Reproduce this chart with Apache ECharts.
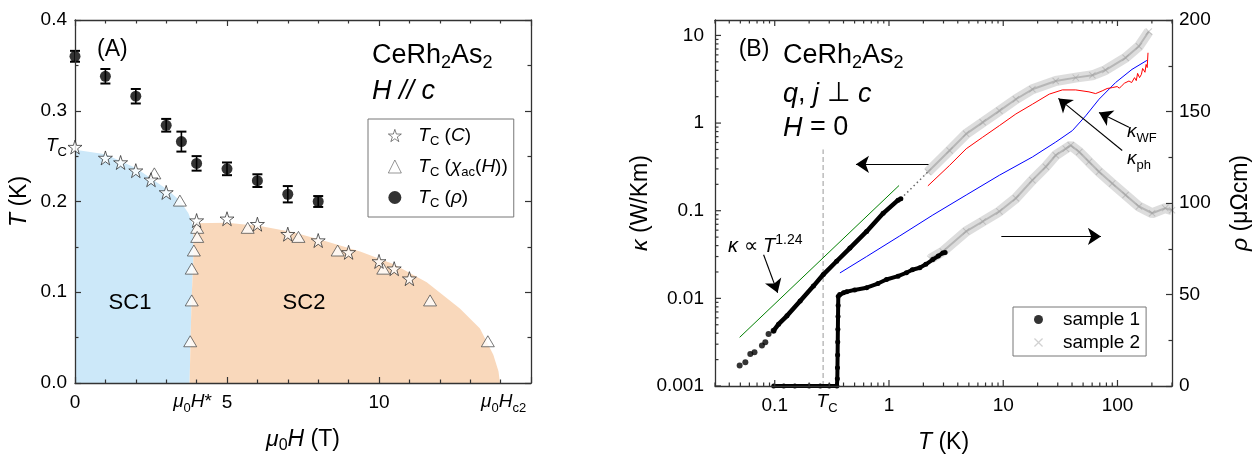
<!DOCTYPE html>
<html><head><meta charset="utf-8">
<script src="https://cdn.jsdelivr.net/npm/echarts@6/dist/echarts.min.js"></script>
<style>html,body{margin:0;padding:0;background:#fff}#c{width:1254px;height:459px}</style>
</head><body><div id="c"></div>
<script>
// ================= Panel A data =================
const rhoH   = [0, 1, 2, 3, 3.5, 4, 5, 6, 7, 8];
const rhoTc  = [0.360, 0.338, 0.316, 0.284, 0.266, 0.242, 0.236, 0.223, 0.208, 0.200];
const rhoErr = [0.006, 0.008, 0.008, 0.007, 0.011, 0.008, 0.007, 0.007, 0.009, 0.006];
const starH  = [0, 1, 1.5, 2, 2.5, 3, 4, 5, 6, 7, 8, 9, 10, 10.5, 11];
const starTc = [0.260, 0.248, 0.243, 0.234, 0.224, 0.210, 0.179, 0.181, 0.175, 0.164, 0.157, 0.144, 0.134, 0.126, 0.115];
const triH   = [2.61, 3.45, 4.02, 4.02, 3.91, 3.84, 3.84, 3.79, 5.68, 7.35, 8.64, 10.14, 11.68, 13.58];
const triTc  = [0.231, 0.201, 0.171, 0.161, 0.146, 0.126, 0.091, 0.046, 0.171, 0.161, 0.146, 0.126, 0.091, 0.046];
const sc1H = [0, 0, 1, 2, 3, 3.45, 3.73, 3.9, 3.89, 3.84, 3.81, 3.77];
const sc1T = [0, 0.257, 0.252, 0.237, 0.214, 0.201, 0.187, 0.172, 0.133, 0.0965, 0.06, 0];
const sc2H = [3.77, 3.81, 3.84, 3.89, 3.9, 3.95, 4.99, 6.09, 7.18, 8.28, 9.38, 10.47, 11.57, 12.66, 13.32, 13.76, 13.93, 13.98];
const sc2T = [0, 0.06, 0.0965, 0.133, 0.172, 0.176, 0.1765, 0.173, 0.166, 0.156, 0.145, 0.131, 0.111, 0.082, 0.060, 0.031, 0.013, 0];
const hStar = 3.8, hC2 = 14, tcA = 0.26;

// ================= Panel B data =================
const k1DotT  = [0.0493, 0.0553, 0.0611, 0.0665, 0.0773, 0.0827, 0.0883, 0.0977];
const k1DotK  = [0.00171, 0.00187, 0.00232, 0.00243, 0.00289, 0.00315, 0.00391, 0.00427];
const k1LineT = [0.0977, 0.108, 0.128, 0.167, 0.218, 0.266, 0.348, 0.455, 0.637, 0.889, 1.2, 1.27];
const k1LineK = [0.00427, 0.00508, 0.00632, 0.00935, 0.0138, 0.0187, 0.0265, 0.0375, 0.058, 0.0934, 0.132, 0.137];
const k1GapT  = [1.27, 2.19];
const k1GapK  = [0.137, 0.277];
const r1T = [0.098, 0.12, 0.15, 0.2, 0.25, 0.3, 0.35, 0.353, 0.354, 0.355, 0.356, 0.357, 0.358, 0.359, 0.36, 0.37, 0.4, 0.426, 0.5, 0.637, 0.8, 0.95, 1.2, 1.42, 1.6, 1.86, 2.1, 2.42, 2.7, 2.96, 3.1];
const r1R = [0, 0, 0, 0, 0, 0, 0, 4, 10, 17, 24, 31, 38, 44, 49, 50, 51, 51.5, 52.5, 53.7, 56, 58.2, 60, 61.9, 63.5, 64.6, 66.5, 69.1, 71, 72.7, 73];
const k2T = [2.19, 3.39, 4.74, 6.61, 9.25, 12.9, 18, 28.8, 43.1, 60.3, 78.5, 117.7, 154, 188];
const k2K = [0.277, 0.487, 0.753, 1.02, 1.38, 1.87, 2.43, 3.02, 3.30, 3.51, 4.03, 5.56, 7.53, 11.1];
const r2T = [2.3, 2.96, 4.74, 6.61, 9.25, 12.9, 18, 23.6, 28.8, 35.3, 39, 46.3, 56.3, 68.9, 90, 117.7, 154, 201, 262, 300];
const r2R = [69.5, 73.5, 84.5, 89.9, 95.4, 102.6, 112.5, 119.8, 126.1, 129.7, 131.5, 127.9, 122.5, 117.1, 110.7, 104.4, 98.1, 94.4, 97.2, 96];
const kwfT = [0.372, 0.637, 1.24, 2.42, 4.74, 9.25, 18, 28.8, 40.3, 52.7, 68.9, 96.2, 134, 181];
const kwfK = [0.0195, 0.030, 0.0515, 0.0893, 0.151, 0.254, 0.41, 0.607, 0.821, 1.21, 1.87, 2.9, 4.1, 5.19];
const kphT = [2.19, 3.39, 4.74, 6.61, 9.25, 12.9, 18, 25.3, 32.9, 43.1, 56.3, 64.4, 73.4, 81.1, 90, 99.4, 104, 110, 115, 126, 133, 141, 146, 150, 156, 162, 166, 170, 174, 178, 182, 185];
const kphK = [0.192, 0.329, 0.509, 0.69, 0.935, 1.27, 1.64, 2.14, 2.39, 2.39, 2.27, 2.17, 2.33, 2.48, 2.54, 2.61, 2.5, 2.7, 2.85, 3.02, 2.9, 3.3, 3.05, 3.69, 3.3, 3.6, 4.2, 4.1, 3.8, 4.67, 4.3, 6.34];
const kfitT = [0.0493, 1.225];
const kfitK = [0.00359, 0.194];
const tcB = 0.265;
const tcLineK = [0.001, 0.5];
const arrowLeft  = [[2.22, 0.338], [0.514, 0.338]];
const arrowRight = [[9.62, 0.0509], [71.6, 0.0509]];
const arrowWF    = [[126, 0.896], [68.9, 1.32]];
const arrowPh    = [[110, 0.486], [30.4, 1.91]];
const arrowFit   = [[0.0799, 0.0315], [0.106, 0.0116]];
// axis tick labels / structure
const xTicksA = [0, 5, 10];
const logMant = [1, 2, 3, 4, 5, 6, 7, 8, 9];
const logDecX = [0.01, 0.1, 1, 10, 100];
const logDecY = [0.001, 0.01, 0.1, 1, 10];

// ================= helpers =================
const FONT = '"Liberation Sans", Arial, Helvetica, sans-serif';
function R(sz, gap) {
  const sub = Math.round(sz * 0.68);
  const f = {fontFamily: FONT, color: '#000'};
  return {
    n:  Object.assign({}, f, {fontSize: sz, lineHeight: sz + 6}),
    i:  Object.assign({}, f, {fontSize: sz, fontStyle: 'italic', lineHeight: sz + 6}),
    s:  Object.assign({}, f, {fontSize: sub, lineHeight: sub, verticalAlign: 'bottom'}),
    si: Object.assign({}, f, {fontSize: sub, fontStyle: 'italic', lineHeight: sub, verticalAlign: 'bottom'}),
    p:  Object.assign({}, f, {fontSize: sub, lineHeight: sub, verticalAlign: 'top'}),
    g:  Object.assign({}, f, {fontSize: sz, width: gap || 7, lineHeight: sz + 6})
  };
}
const zip = (a, b) => a.map((v, i) => [v, b[i]]);
const AX = '#333';
const starPath = 'path://M12,0 L14.8,8.6 L24,8.6 L16.6,14 L19.4,22.6 L12,17.3 L4.6,22.6 L7.4,14 L0,8.6 L9.2,8.6 Z';
const crossPath = 'path://M0,1 L1,0 L5,4 L9,0 L10,1 L6,5 L10,9 L9,10 L5,6 L1,10 L0,9 L4,5 Z';

function polygonSeries(H, T, color) {
  return {
    type: 'custom', xAxisIndex: 0, yAxisIndex: 0, z: 1, silent: true,
    data: [[H[0], T[0]]],
    renderItem: (params, api) => ({
      type: 'polygon',
      shape: {points: H.map((h, i) => api.coord([h, T[i]]))},
      style: {fill: color}
    })
  };
}

// log ticks (structure only)
const tickData = [];
logDecX.forEach(d => logMant.forEach(m => {
  const v = +(m * d).toPrecision(6);
  if (v >= 0.03 && v <= 300) tickData.push([v, 1, 0, m === 1 ? 1 : 0]);
}));
logDecY.forEach(d => logMant.forEach(m => {
  const v = +(m * d).toPrecision(6);
  if (v >= 0.001 && v <= 15) tickData.push([1, v, 1, m === 1 ? 1 : 0]);
}));

function isPow10(v) { const l = Math.log10(v); return Math.abs(l - Math.round(l)) < 1e-6; }

const tickLabel = {fontFamily: FONT, fontSize: 19, color: '#000'};
const nameStyle = {fontFamily: FONT, fontSize: 23, color: '#000', rich: R(23)};
const lineAx = {show: true, onZero: false, lineStyle: {color: AX, width: 1.3}};

const bandOuter = 'rgba(175,175,175,0.42)';
const bandInner = 'rgba(135,135,135,0.45)';
const crossCol  = 'rgba(150,150,150,0.55)';

const option = {
  animation: false,
  backgroundColor: '#fff',
  grid: [
    {left: 75, top: 20, width: 456, height: 369},
    {left: 715, top: 20, width: 457, height: 369}
  ],
  xAxis: [
    {type: 'value', gridIndex: 0, min: 0, max: 15, interval: 5, z: 5,
     axisLine: lineAx, axisTick: {inside: true, length: 6, lineStyle: {color: AX, width: 1.2}},
     minorTick: {show: true, splitNumber: 5, length: 3.5, lineStyle: {color: AX, width: 1.2}},
     splitLine: {show: false},
     axisLabel: Object.assign({margin: 10, formatter: v => xTicksA.indexOf(v) >= 0 ? String(v) : ''}, tickLabel),
     name: '{i|μ}{s|0}{i|H}{n| (T)}', nameLocation: 'middle', nameGap: 42, nameTextStyle: nameStyle},
    {type: 'value', gridIndex: 0, position: 'top', min: 0, max: 15, interval: 5, z: 5,
     axisLine: lineAx, axisTick: {inside: true, length: 6, lineStyle: {color: AX, width: 1.2}},
     minorTick: {show: true, splitNumber: 5, length: 3.5, lineStyle: {color: AX, width: 1.2}},
     splitLine: {show: false}, axisLabel: {show: false}},
    {type: 'log', gridIndex: 1, min: 0.03, max: 300, logBase: 10, z: 5,
     axisLine: lineAx, axisTick: {show: false}, splitLine: {show: false},
     axisLabel: Object.assign({margin: 10, formatter: v => isPow10(v) ? String(+v.toPrecision(3)) : ''}, tickLabel),
     name: '{i|T}{n| (K)}', nameLocation: 'middle', nameGap: 42, nameTextStyle: nameStyle},
    {type: 'log', gridIndex: 1, position: 'top', min: 0.03, max: 300, logBase: 10, z: 5,
     axisLine: lineAx, axisTick: {show: false}, splitLine: {show: false}, axisLabel: {show: false}}
  ],
  yAxis: [
    {type: 'value', gridIndex: 0, min: 0, max: 0.4, interval: 0.1, z: 5,
     axisLine: lineAx, axisTick: {inside: true, length: 6, lineStyle: {color: AX, width: 1.2}},
     minorTick: {show: true, splitNumber: 2, length: 3.5, lineStyle: {color: AX, width: 1.2}},
     splitLine: {show: false},
     axisLabel: Object.assign({margin: 8, formatter: v => v.toFixed(1)}, tickLabel),
     name: '{i|T}{n| (K)}', nameLocation: 'middle', nameGap: 41, nameTextStyle: nameStyle},
    {type: 'value', gridIndex: 0, position: 'right', min: 0, max: 0.4, interval: 0.1, z: 5,
     axisLine: lineAx, axisTick: {inside: true, length: 6, lineStyle: {color: AX, width: 1.2}},
     minorTick: {show: true, splitNumber: 2, length: 3.5, lineStyle: {color: AX, width: 1.2}},
     splitLine: {show: false}, axisLabel: {show: false}},
    {type: 'log', gridIndex: 1, min: 0.001, max: 15, logBase: 10, z: 5,
     axisLine: lineAx, axisTick: {show: false}, splitLine: {show: false},
     axisLabel: Object.assign({margin: 11, formatter: v => isPow10(v) ? String(+v.toPrecision(3)) : ''}, tickLabel),
     name: '{i|κ}{n| (W/Km)}', nameLocation: 'middle', nameGap: 55, nameTextStyle: nameStyle},
    {type: 'value', gridIndex: 1, position: 'right', min: 0, max: 200, interval: 50, z: 5,
     axisLine: lineAx, axisTick: {inside: true, length: 6, lineStyle: {color: AX, width: 1.2}},
     minorTick: {show: true, splitNumber: 2, length: 3.5, lineStyle: {color: AX, width: 1.2}},
     splitLine: {show: false},
     axisLabel: Object.assign({margin: 7}, tickLabel),
     name: '{i|ρ}{n| (μΩcm)}', nameLocation: 'middle', nameGap: 54, nameRotate: 90, nameTextStyle: nameStyle}
  ],
  legend: [
    {data: ['Tc_C', 'Tc_chi', 'Tc_rho'], orient: 'vertical', left: 368, top: 119,
     padding: [7, 6, 7, 20], itemWidth: 13, itemHeight: 13, itemGap: 9,
     borderColor: '#777', borderWidth: 1, selectedMode: false, symbolKeepAspect: true,
     itemStyle: {borderWidth: 0.7},
     formatter: n => ({
       Tc_C: '{g|}{i|T}{s|C}{n| (}{i|C}{n|)}',
       Tc_chi: '{g|}{i|T}{s|C}{n| (}{i|χ}{s|ac}{n|(}{i|H}{n|))}',
       Tc_rho: '{g|}{i|T}{s|C}{n| (}{i|ρ}{n|)}'
     })[n],
     textStyle: {fontFamily: FONT, fontSize: 19, rich: R(19, 12)}},
    {data: ['sample 1', 'sample 2'], orient: 'vertical', left: 1013, top: 307,
     padding: [3, 6, 4, 21], itemWidth: 9, itemHeight: 9, itemGap: 4,
     borderColor: '#777', borderWidth: 1, selectedMode: false, symbolKeepAspect: true,
     formatter: n => '{g|}{n|' + n + '}',
     textStyle: {fontFamily: FONT, fontSize: 19, rich: Object.assign(R(19, 15), {n: {fontFamily: FONT, fontSize: 19, lineHeight: 23, color: '#000'}})}}
  ],
  series: [
    // ---------- Panel A ----------
    polygonSeries(sc1H, sc1T, '#cce8f9'),
    polygonSeries(sc2H, sc2T, '#f9d8bb'),
    {type: 'custom', xAxisIndex: 0, yAxisIndex: 0, z: 3, silent: true,
     data: rhoH.map((h, i) => [h, rhoTc[i] - rhoErr[i], rhoTc[i] + rhoErr[i]]),
     encode: {x: 0, y: [1, 2]},
     renderItem: (params, api) => {
       const lo = api.coord([api.value(0), api.value(1)]);
       const hi = api.coord([api.value(0), api.value(2)]);
       const w = 5, st = {stroke: '#000', lineWidth: 1.6};
       return {type: 'group', children: [
         {type: 'line', shape: {x1: lo[0], y1: lo[1], x2: hi[0], y2: hi[1]}, style: st},
         {type: 'line', shape: {x1: lo[0] - w, y1: lo[1], x2: lo[0] + w, y2: lo[1]}, style: {stroke: '#000', lineWidth: 2}},
         {type: 'line', shape: {x1: hi[0] - w, y1: hi[1], x2: hi[0] + w, y2: hi[1]}, style: {stroke: '#000', lineWidth: 2}}
       ]};
     }},
    {name: 'Tc_rho', type: 'scatter', xAxisIndex: 0, yAxisIndex: 0, z: 4, symbol: 'circle', symbolSize: 11,
     itemStyle: {color: '#000'}, data: zip(rhoH, rhoTc)},
    {name: 'Tc_chi', type: 'scatter', xAxisIndex: 0, yAxisIndex: 0, z: 4, symbol: 'triangle', symbolSize: [13, 11],
     itemStyle: {color: '#fff', borderColor: '#444', borderWidth: 0.9}, data: zip(triH, triTc)},
    {name: 'Tc_C', type: 'scatter', xAxisIndex: 0, yAxisIndex: 0, z: 5, symbol: starPath, symbolSize: 14,
     itemStyle: {color: '#fff', borderColor: '#222', borderWidth: 0.9}, data: zip(starH, starTc)},
    // ---------- Panel B ----------
    {type: 'custom', xAxisIndex: 2, yAxisIndex: 2, z: 6, silent: true, clip: false,
     data: tickData, encode: {x: 0, y: 1},
     renderItem: (params, api) => {
       const cs = params.coordSys;
       const len = api.value(3) ? 6 : 3.5;
       const st = {stroke: AX, lineWidth: 1.2};
       if (api.value(2) === 0) {
         const px = api.coord([api.value(0), 1])[0];
         return {type: 'group', children: [
           {type: 'line', shape: {x1: px, y1: cs.y + cs.height, x2: px, y2: cs.y + cs.height - len}, style: st},
           {type: 'line', shape: {x1: px, y1: cs.y, x2: px, y2: cs.y + len}, style: st}
         ]};
       }
       const py = api.coord([1, api.value(1)])[1];
       return {type: 'line', shape: {x1: cs.x, y1: py, x2: cs.x + len, y2: py}, style: st};
     }},
    {type: 'line', xAxisIndex: 2, yAxisIndex: 2, symbol: 'none', silent: true,
     lineStyle: {color: '#999', width: 1, type: [5, 3]}, data: tcLineK.map(k => [tcB, k])},
    {type: 'line', xAxisIndex: 2, yAxisIndex: 2, symbol: 'none', silent: true,
     lineStyle: {color: '#008000', width: 1}, data: zip(kfitT, kfitK)},
    // sample 2 bands
    {type: 'line', xAxisIndex: 2, yAxisIndex: 2, symbol: 'none', silent: true, z: 2,
     lineStyle: {color: bandOuter, width: 10}, data: zip(k2T, k2K)},
    {type: 'line', xAxisIndex: 2, yAxisIndex: 2, symbol: 'none', silent: true, z: 2,
     lineStyle: {color: bandInner, width: 2}, data: zip(k2T, k2K)},
    {name: 'sample 2', type: 'scatter', xAxisIndex: 2, yAxisIndex: 2, z: 2, symbol: crossPath, symbolSize: 7,
     itemStyle: {color: crossCol}, data: zip(k2T, k2K)},
    {type: 'line', xAxisIndex: 2, yAxisIndex: 3, symbol: 'none', silent: true, z: 2,
     lineStyle: {color: bandOuter, width: 10}, data: zip(r2T, r2R)},
    {type: 'line', xAxisIndex: 2, yAxisIndex: 3, symbol: 'none', silent: true, z: 2,
     lineStyle: {color: bandInner, width: 2}, data: zip(r2T, r2R)},
    {name: 'sample 2', type: 'scatter', xAxisIndex: 2, yAxisIndex: 3, z: 2, symbol: crossPath, symbolSize: 7,
     itemStyle: {color: crossCol}, data: zip(r2T, r2R)},
    // kappa lines
    {type: 'line', xAxisIndex: 2, yAxisIndex: 2, symbol: 'none', silent: true, z: 3,
     lineStyle: {color: '#0000ff', width: 1}, data: zip(kwfT, kwfK)},
    {type: 'line', xAxisIndex: 2, yAxisIndex: 2, symbol: 'none', silent: true, z: 3,
     lineStyle: {color: '#ff0000', width: 1}, data: zip(kphT, kphK)},
    // sample 1
    {type: 'line', xAxisIndex: 2, yAxisIndex: 2, symbol: 'none', silent: true, z: 3,
     lineStyle: {color: '#666', width: 1.5, type: [1.5, 3]}, data: zip(k1GapT, k1GapK)},
    {name: 'sample 1', type: 'scatter', xAxisIndex: 2, yAxisIndex: 2, z: 4, symbol: 'circle', symbolSize: 6,
     itemStyle: {color: '#000'}, data: zip(k1DotT, k1DotK)},
    {type: 'line', xAxisIndex: 2, yAxisIndex: 2, symbol: 'circle', symbolSize: 5, showAllSymbol: true, silent: true, z: 4,
     itemStyle: {color: '#000'}, lineStyle: {color: '#000', width: 4.5}, data: zip(k1LineT, k1LineK)},
    {type: 'line', xAxisIndex: 2, yAxisIndex: 3, symbol: 'circle', symbolSize: 5, showAllSymbol: true, silent: true, z: 4,
     itemStyle: {color: '#000'}, lineStyle: {color: '#000', width: 4}, data: zip(r1T, r1R)},
    // arrows
    {type: 'lines', coordinateSystem: 'cartesian2d', xAxisIndex: 2, yAxisIndex: 2, z: 6, silent: true,
     symbol: ['none', 'arrow'], symbolSize: [9, 13],
     lineStyle: {color: '#000', width: 1.1, opacity: 1},
     data: [arrowLeft, arrowRight, arrowWF, arrowPh, arrowFit].map(a => ({coords: a}))}
  ]
};

const chart = echarts.init(document.getElementById('c'));
chart.setOption(option);

// ---------- text annotations ----------
function txt(x, y, text, sz, align) {
  return {type: 'text', x: x, y: y, z: 20, silent: true,
    style: {text: text, rich: R(sz), fontFamily: FONT, fontSize: sz, fill: '#000',
            align: align || 'left', verticalAlign: 'middle'}};
}
const pA = (h, t) => chart.convertToPixel({gridIndex: 0}, [h, t]);
const pB = (T, k) => chart.convertToPixel({xAxisIndex: 2, yAxisIndex: 2}, [T, k]);
const yLab = pA(0, 0)[1] + 19;
const graphics = [
  txt(97, 50, '{n|(A)}', 23),
  txt(372, 56, '{n|CeRh}{s|2}{n|As}{s|2}', 27),
  txt(372, 91, '{i|H // c}', 27),
  txt(pA(0, tcA)[0] - 8, pA(0, tcA)[1] - 1, '{i|T}{s|C}', 19, 'right'),
  txt(130, 303, '{n|SC1}', 22, 'center'),
  txt(304, 303, '{n|SC2}', 22, 'center'),
  txt(pA(hStar, 0)[0] + 2, yLab, '{i|μ}{s|0}{i|H}{n|*}', 19, 'center'),
  txt(pA(hC2, 0)[0] + 3, yLab, '{i|μ}{s|0}{i|H}{s|c2}', 19, 'center'),
  txt(754, 50, '{n|(B)}', 23, 'center'),
  txt(783, 56, '{n|CeRh}{s|2}{n|As}{s|2}', 27),
  txt(783, 94, '{i|q}{n|, }{i|j}{n| ⊥ }{i|c}', 27),
  txt(783, 128, '{i|H}{n| = 0}', 27),
  txt(728, 246, '{i|κ}{n| ∝ }{i|T}{p|1.24}', 20),
  txt(1127, 132, '{i|κ}{s|WF}', 19),
  txt(1127, 159, '{i|κ}{s|ph}', 19),
  txt(pB(tcB, 0.001)[0] + 4, yLab, '{i|T}{s|C}', 19, 'center')
];
chart.setOption({graphic: graphics});
</script></body></html>
